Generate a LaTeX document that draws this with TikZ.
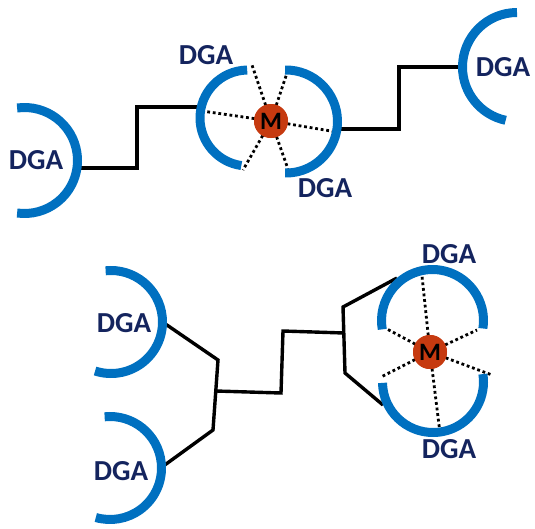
\documentclass[tikz,border=0pt]{standalone}
\usepackage{fontspec}
\setmainfont{Carlito}
\definecolor{ringblue}{HTML}{0070C0}
\definecolor{labelnavy}{HTML}{14245E}
\definecolor{metalred}{HTML}{C63A10}
\tikzset{
  ring/.style={draw=ringblue, line width=9pt},
  link/.style={draw=black, line width=3.4pt, line join=miter},
  bond/.style={draw=black, line width=2.8pt, dash pattern=on 2.8pt off 2.8pt},
  dga/.style={inner sep=0pt, text=labelnavy, font=\bfseries\fontsize{29}{29}\selectfont},
  metal/.style={circle, fill=metalred, minimum size=34pt, inner sep=0pt,
                font=\bfseries\fontsize{25}{25}\selectfont, text=black}
}
\begin{document}
\begin{tikzpicture}[x=1pt,y=1pt]
\useasboundingbox (0,0) rectangle (535,-528);

% ---------- upper chain ----------
\node[metal] (m1) at (271,-121) {M};
\coordinate (a1) at (77,-168);
\coordinate (a2) at (200,-107);
\coordinate (a3) at (337,-129);
\coordinate (a4) at (465,-67);
\draw[link] (a1) -- (137,-168) -- (137,-107) -- (a2);
\draw[link] (a3) -- (399,-129) -- (399,-67) -- (a4);

% coordination bonds around the upper metal
\coordinate (b1) at (252,-65);
\coordinate (b2) at (202,-111);
\coordinate (b3) at (243,-170);
\coordinate (b4) at (287,-73);
\coordinate (b5) at (337,-132);
\coordinate (b6) at (288,-169);
\foreach \p in {b1,b2,b3,b4,b5,b6} \draw[bond] (m1.center) -- (\p);

% rings of the upper chain
\draw[ring] (24.5,-160.5) ++(98:53) arc[start angle=98, end angle=-98, radius=53];
\draw[ring] (248,-118) ++(91:48) arc[start angle=91, end angle=262, radius=48];
\draw[ring] (286,-121.5) ++(91:51.5) arc[start angle=91, end angle=-91, radius=51.5];
\draw[ring] (517,-67) ++(90:54.5) arc[start angle=90, end angle=258, radius=54.5];
\node[metal] at (m1) {M};

\node[dga] (t1) at (36,-160) {DGA};
\node[dga] (t2) at (206,-55) {DGA};
\node[dga] (t3) at (325,-188) {DGA};
\node[dga] (t4) at (503,-67) {DGA};

% ---------- lower chain ----------
\node[metal] (m2) at (430,-352) {M};
\coordinate (c1) at (164,-323);
\coordinate (c2) at (162,-467);
\coordinate (j1) at (218,-360);
\coordinate (j2) at (213,-430);
\coordinate (k1) at (343,-307);
\coordinate (k2) at (345,-373);
\coordinate (c3) at (397,-278);
\coordinate (c4) at (383,-405);
\draw[link] (c1) -- (j1) -- (j2) -- (c2);
\draw[link] (216,-391) -- (281,-393) -- (283,-331) -- (344,-333);
\draw[link] (c3) -- (k1) -- (k2) -- (c4);

% coordination bonds around the lower metal
\coordinate (d1) at (422,-276);
\coordinate (d2) at (387,-329);
\coordinate (d3) at (477,-330);
\coordinate (d4) at (381,-377);
\coordinate (d5) at (492,-375);
\coordinate (d6) at (440,-433);
\foreach \p in {d1,d2,d3,d4,d5,d6} \draw[bond] (m2.center) -- (\p);

% rings of the lower chain
\draw[ring] (111,-322) ++(96:51.5) arc[start angle=96, end angle=-108, radius=51.5];
\draw[ring] (110,-468) ++(96:51.5) arc[start angle=96, end angle=-106, radius=51.5];
\draw[ring] (432.5,-320.5) ++(-9:51) arc[start angle=-9, end angle=190, radius=51];
\draw[ring] (433,-382) ++(181:50.5) arc[start angle=181, end angle=369, radius=50.5];
\node[metal] at (m2) {M};

\node[dga] (t5) at (124,-323) {DGA};
\node[dga] (t6) at (121,-471) {DGA};
\node[dga] (t7) at (449,-254) {DGA};
\node[dga] (t8) at (449,-449) {DGA};
\end{tikzpicture}
\end{document}
